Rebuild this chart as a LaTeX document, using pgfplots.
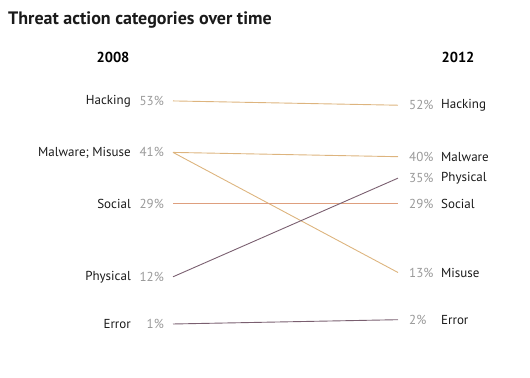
\documentclass[border=0pt]{standalone}
\usepackage{fontspec}
\setmainfont{PT Sans}
\usepackage{pgfplots}
\pgfplotsset{compat=1.18}
\definecolor{tanc}{HTML}{DDB47E}
\definecolor{peach}{HTML}{DE9F7E}
\definecolor{mauve}{HTML}{7A5F70}
\definecolor{pctgray}{HTML}{999999}
\definecolor{lblc}{HTML}{1A1A1A}
\newcommand{\lf}{\fontsize{13bp}{15bp}\selectfont}
\begin{document}
\begin{tikzpicture}
\begin{axis}[scale only axis, width=530bp, height=378bp, hide axis, clip=false,
  xmin=-0.7689, xmax=1.5867, ymin=-11.59, ymax=76.53]
\addplot[tanc, line width=0.9bp] coordinates {(0,53) (1,52)};
\addplot[tanc, line width=0.9bp] coordinates {(0,41) (1,40)};
\addplot[tanc, line width=0.9bp] coordinates {(0,41) (1,13)};
\addplot[peach, line width=0.9bp] coordinates {(0,29) (1,29)};
\addplot[mauve, line width=0.9bp] coordinates {(0,12) (1,35)};
\addplot[mauve, line width=0.9bp] coordinates {(0,1) (1,2)};
% title and headers
\node[anchor=base west, inner sep=0pt, font=\fontsize{18bp}{21bp}\selectfont\bfseries, text=lblc] at ([xshift=8bp, yshift=-25bp]rel axis cs:0,1) {Threat action categories over time};
\node[anchor=base, inner sep=0pt, font=\fontsize{14.5bp}{17bp}\selectfont\bfseries] at ([xshift=113bp, yshift=-63bp]rel axis cs:0,1) {2008};
\node[anchor=base, inner sep=0pt, font=\fontsize{14.5bp}{17bp}\selectfont\bfseries] at ([xshift=458bp, yshift=-63bp]rel axis cs:0,1) {2012};
% left labels
\node[anchor=east, inner sep=0pt, font=\lf, text=pctgray] at ([xshift=-9bp]axis cs:0,53) {53\%};
\node[anchor=east, inner sep=0pt, font=\lf, text=pctgray] at ([xshift=-9bp]axis cs:0,41) {41\%};
\node[anchor=east, inner sep=0pt, font=\lf, text=pctgray] at ([xshift=-9bp]axis cs:0,29) {29\%};
\node[anchor=east, inner sep=0pt, font=\lf, text=pctgray] at ([xshift=-9bp]axis cs:0,12) {12\%};
\node[anchor=east, inner sep=0pt, font=\lf, text=pctgray] at ([xshift=-9bp]axis cs:0,1) {1\%};
\node[anchor=east, inner sep=0pt, font=\lf, text=lblc] at ([xshift=-42bp]axis cs:0,53) {Hacking};
\node[anchor=east, inner sep=0pt, font=\lf, text=lblc] at ([xshift=-42bp]axis cs:0,41) {Malware; Misuse};
\node[anchor=east, inner sep=0pt, font=\lf, text=lblc] at ([xshift=-42bp]axis cs:0,29) {Social};
\node[anchor=east, inner sep=0pt, font=\lf, text=lblc] at ([xshift=-42bp]axis cs:0,12) {Physical};
\node[anchor=east, inner sep=0pt, font=\lf, text=lblc] at ([xshift=-42bp]axis cs:0,1) {Error};
% right labels
\node[anchor=west, inner sep=0pt, font=\lf, text=pctgray] at ([xshift=11bp]axis cs:1,52) {52\%};
\node[anchor=west, inner sep=0pt, font=\lf, text=pctgray] at ([xshift=11bp]axis cs:1,40) {40\%};
\node[anchor=west, inner sep=0pt, font=\lf, text=pctgray] at ([xshift=11bp]axis cs:1,35) {35\%};
\node[anchor=west, inner sep=0pt, font=\lf, text=pctgray] at ([xshift=11bp]axis cs:1,29) {29\%};
\node[anchor=west, inner sep=0pt, font=\lf, text=pctgray] at ([xshift=11bp]axis cs:1,13) {13\%};
\node[anchor=west, inner sep=0pt, font=\lf, text=pctgray] at ([xshift=11bp]axis cs:1,2) {2\%};
\node[anchor=west, inner sep=0pt, font=\lf, text=lblc] at ([xshift=43bp]axis cs:1,52) {Hacking};
\node[anchor=west, inner sep=0pt, font=\lf, text=lblc] at ([xshift=43bp]axis cs:1,40) {Malware};
\node[anchor=west, inner sep=0pt, font=\lf, text=lblc] at ([xshift=43bp]axis cs:1,35) {Physical};
\node[anchor=west, inner sep=0pt, font=\lf, text=lblc] at ([xshift=43bp]axis cs:1,29) {Social};
\node[anchor=west, inner sep=0pt, font=\lf, text=lblc] at ([xshift=43bp]axis cs:1,13) {Misuse};
\node[anchor=west, inner sep=0pt, font=\lf, text=lblc] at ([xshift=43bp]axis cs:1,2) {Error};
\end{axis}
\pgfresetboundingbox
\path (current axis.south west) rectangle (current axis.north east);
\end{tikzpicture}
\end{document}
